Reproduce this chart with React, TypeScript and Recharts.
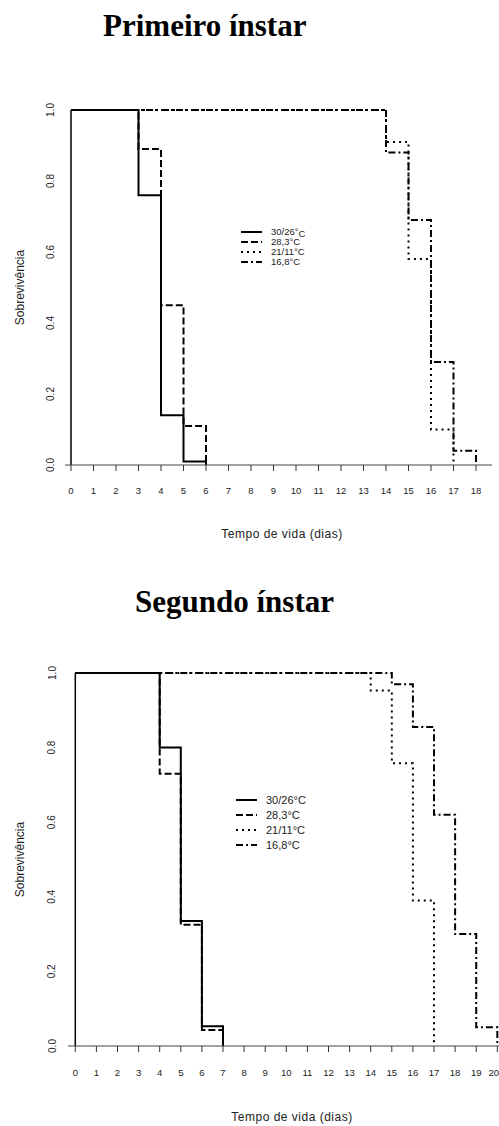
import React from 'react';
import { LineChart, Line, XAxis, YAxis, ReferenceLine, Legend } from 'recharts';

const seriesNames = ['30/26°C', '28,3°C', '21/11°C', '16,8°C'];
const seriesDash = ['', '7 3', '2 4', '7 3 2 3'];

// Primeiro ínstar
const p1Days30 = [0, 3, 4, 5, 6];
const p1Surv30 = [1, 0.76, 0.14, 0.01, 0];
const p1Days28 = [0, 3, 4, 5, 6];
const p1Surv28 = [1, 0.89, 0.45, 0.11, 0];
const p1Days21 = [0, 14, 15, 16, 17];
const p1Surv21 = [1, 0.91, 0.58, 0.1, 0];
const p1Days16 = [0, 14, 15, 16, 17, 18];
const p1Surv16 = [1, 0.88, 0.69, 0.29, 0.04, 0];

// Segundo ínstar
const s2Days30 = [0, 4, 5, 6, 7];
const s2Surv30 = [1, 0.8, 0.335, 0.053, 0];
const s2Days28 = [0, 4, 5, 6, 7];
const s2Surv28 = [1, 0.73, 0.325, 0.043, 0];
const s2Days21 = [0, 14, 15, 16, 17];
const s2Surv21 = [1, 0.953, 0.758, 0.39, 0];
const s2Days16 = [0, 15, 16, 17, 18, 19, 20];
const s2Surv16 = [1, 0.97, 0.855, 0.62, 0.3, 0.05, 0];

const xTicks1 = [0, 1, 2, 3, 4, 5, 6, 7, 8, 9, 10, 11, 12, 13, 14, 15, 16, 17, 18];
const xTicks2 = [0, 1, 2, 3, 4, 5, 6, 7, 8, 9, 10, 11, 12, 13, 14, 15, 16, 17, 18, 19, 20];
const yTicks = [0, 0.2, 0.4, 0.6, 0.8, 1];

const steps = (days: number[], surv: number[]) => days.map((t, i) => ({ t, s: surv[i] }));

const chart1 = [
  steps(p1Days30, p1Surv30),
  steps(p1Days28, p1Surv28),
  steps(p1Days21, p1Surv21),
  steps(p1Days16, p1Surv16),
];
const chart2 = [
  steps(s2Days30, s2Surv30),
  steps(s2Days28, s2Surv28),
  steps(s2Days21, s2Surv21),
  steps(s2Days16, s2Surv16),
];

const SANS = '"Liberation Sans", Arial, sans-serif';
const SERIF = '"Liberation Serif", "Times New Roman", serif';

function LegendBox({ fontSize, rowGap, lowC }: any) {
  return (
    <svg width={130} height={rowGap * 4 + 10} style={{ display: 'block' }}>
      {seriesNames.map((name, i) => {
        const y = 6 + i * rowGap;
        return (
          <g key={name}>
            <line x1={0} x2={21} y1={y} y2={y} stroke="#000" strokeWidth={2} strokeDasharray={seriesDash[i] || undefined} />
            <text x={30} y={y} dy="0.35em" fontSize={fontSize} fontFamily={SANS} fill="#222">
              {lowC && i === 0 ? (
                <>
                  {name.slice(0, -1)}
                  <tspan dy={2}>C</tspan>
                </>
              ) : (
                name
              )}
            </text>
          </g>
        );
      })}
    </svg>
  );
}

function SurvivalChart({ cfg }: any) {
  const yTick = (props: any) => (
    <text
      x={cfg.yTickX}
      y={props.y}
      dy="0.35em"
      textAnchor="middle"
      fontSize={10}
      fontFamily={SANS}
      fill="#222"
      transform={`rotate(-90 ${cfg.yTickX} ${props.y})`}
    >
      {Number(props.payload.value).toFixed(1)}
    </text>
  );
  const lastTick = cfg.ticks[cfg.ticks.length - 1];
  const xTick = (props: any) => {
    // keep the last label inside the picture when it sits on the right edge
    const atEdge = props.payload.value === lastTick && props.x > 490;
    return (
      <text
        x={atEdge ? 499 : props.x}
        y={props.y}
        dy="0.71em"
        textAnchor={atEdge ? 'end' : 'middle'}
        fontSize={9.5}
        fontFamily={SANS}
        fill="#222"
      >
        {props.payload.value}
      </text>
    );
  };
  return (
    <div style={{ position: 'absolute', left: 0, top: cfg.top }}>
      <LineChart width={499} height={cfg.height} margin={cfg.margin}>
        <XAxis
          type="number"
          dataKey="t"
          domain={cfg.domain}
          ticks={cfg.ticks}
          interval={0}
          height={60}
          tickSize={6}
          tickMargin={cfg.tickMargin}
          axisLine={{ stroke: '#444' }}
          tickLine={{ stroke: '#333' }}
          tick={xTick}
          label={{
            content: (p: any) => (
              <text
                x={cfg.xTitleX}
                y={p.viewBox.y + cfg.xTitleDy}
                textAnchor="middle"
                dominantBaseline="central"
                fontSize={12}
                letterSpacing={0.5}
                fontFamily={SANS}
                fill="#222"
              >
                Tempo de vida (dias)
              </text>
            ),
          }}
        />
        <YAxis
          type="number"
          domain={[0, 1]}
          ticks={yTicks}
          width={cfg.yWidth}
          axisLine={false}
          tickLine={false}
          tick={yTick}
          label={{
            content: (p: any) => {
              const cy = p.viewBox.y + p.viewBox.height / 2;
              return (
                <text
                  x={20}
                  y={cy}
                  dy="0.35em"
                  textAnchor="middle"
                  fontSize={12}
                  fontFamily={SANS}
                  fill="#222"
                  transform={`rotate(-90 20 ${cy})`}
                >
                  Sobrevivência
                </text>
              );
            },
          }}
        />
        <ReferenceLine x={0} stroke="#000" strokeWidth={1.5} />
        {cfg.data.map((d: any, i: number) => (
          <Line
            key={seriesNames[i]}
            name={seriesNames[i]}
            data={d}
            dataKey="s"
            type="stepAfter"
            stroke="#000"
            strokeWidth={2}
            strokeDasharray={seriesDash[i] || undefined}
            dot={false}
            activeDot={false}
            isAnimationActive={false}
          />
        ))}
        <Legend
          layout="horizontal"
          verticalAlign="middle"
          align="center"
          wrapperStyle={{ left: cfg.legendLeft, top: cfg.legendTop, width: 130 }}
          content={() => <LegendBox fontSize={cfg.legendFont} rowGap={cfg.legendGap} lowC={cfg.lowC} />}
        />
      </LineChart>
    </div>
  );
}

const cfg1 = {
  top: 60,
  height: 500,
  margin: { top: 50, right: 7, bottom: 35, left: 0 },
  yWidth: 65,
  domain: [-0.267, 18.711],
  ticks: xTicks1,
  tickMargin: 16,
  yTickX: 50,
  xTitleX: 282,
  xTitleDy: 69,
  data: chart1,
  legendLeft: 241,
  legendTop: 166,
  legendFont: 9.5,
  legendGap: 10,
  lowC: true,
};

const cfg2 = {
  top: 630,
  height: 496,
  margin: { top: 43, right: 0, bottom: 20, left: 0 },
  yWidth: 68,
  domain: [-0.346, 20.08],
  ticks: xTicks2,
  tickMargin: 17,
  yTickX: 52,
  xTitleX: 292,
  xTitleDy: 71,
  data: chart2,
  legendLeft: 236,
  legendTop: 164,
  legendFont: 11,
  legendGap: 15,
  lowC: false,
};

const titleStyle: React.CSSProperties = {
  position: 'absolute',
  fontFamily: SERIF,
  fontWeight: 'bold',
  fontSize: 31,
  lineHeight: '31px',
  whiteSpace: 'nowrap',
  color: '#000',
};

export default function App() {
  return (
    <div style={{ position: 'absolute', left: 0, top: 0, width: 499, height: 1126, background: '#fff', overflow: 'hidden' }}>
      <div style={{ ...titleStyle, left: 103, top: 10 }}>Primeiro ínstar</div>
      <SurvivalChart cfg={cfg1} />
      <div style={{ ...titleStyle, left: 135, top: 586 }}>Segundo ínstar</div>
      <SurvivalChart cfg={cfg2} />
    </div>
  );
}
